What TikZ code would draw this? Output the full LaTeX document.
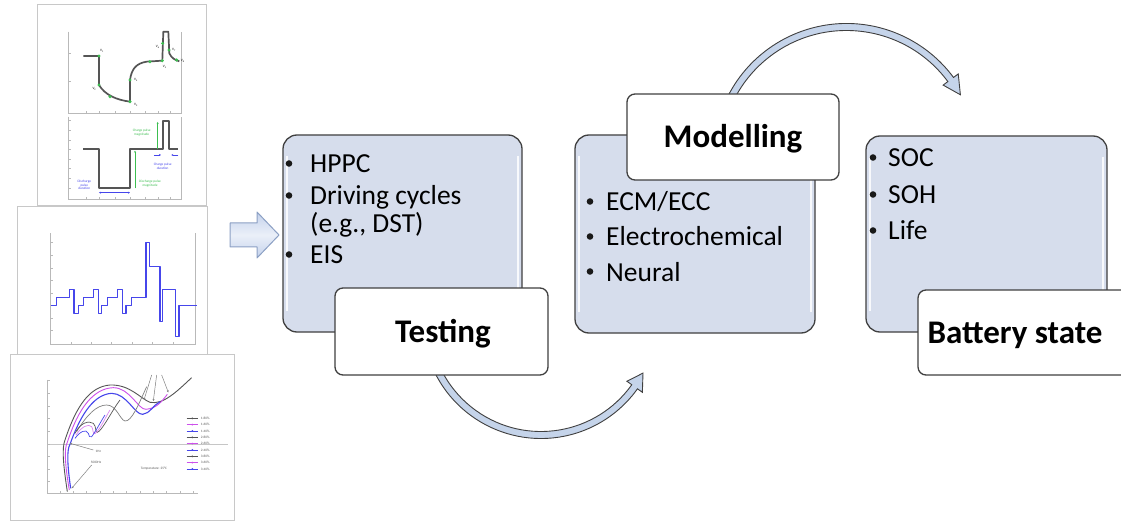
\documentclass[tikz,border=0pt]{standalone}
\usepackage{fontspec}
\setmainfont{Carlito}
\usetikzlibrary{calc,arrows.meta}
\definecolor{boxfill}{RGB}{214,221,236}
\definecolor{boxline}{RGB}{64,64,64}
\definecolor{bandfill}{RGB}{197,212,234}
\definecolor{arrline}{RGB}{140,160,196}
\definecolor{arrfill}{RGB}{196,210,236}
\definecolor{plotgray}{RGB}{85,85,85}
\definecolor{plotgreen}{RGB}{60,190,80}
\definecolor{plotblue}{RGB}{70,70,235}
\definecolor{plotmag}{RGB}{205,80,235}
\definecolor{framegray}{RGB}{200,200,200}
\begin{document}
\begin{tikzpicture}[x=1pt,y=-1pt,
  contentbox/.style={draw=boxline, line width=1.3pt, fill=boxfill, rounded corners=14pt, inner sep=0pt},
  labelbox/.style={draw=boxline, line width=1.3pt, fill=white, rounded corners=8pt, inner sep=0pt},
  band/.style={draw=boxline, line width=0.9pt, fill=bandfill},
  bodytext/.style={inner sep=0pt, anchor=base west, font=\fontsize{27.5}{33}\selectfont},
  titletext/.style={inner sep=0pt, anchor=base, font=\bfseries\fontsize{33}{40}\selectfont},
  panel/.style={draw=framegray, line width=1pt, fill=white},
  axisline/.style={draw=gray!55, line width=0.5pt},
  tinytext/.style={inner sep=0pt, font=\fontsize{3.4}{3.8}\selectfont, align=center},
  hilite/.style={draw=white, line width=2pt, opacity=0.85},
  smallarr/.style={-{Stealth[length=2pt,width=2pt]}, line width=0.5pt},
  bulletdot/.style={fill=black!90}
]
\clip (0,0) rectangle (1121,521);
\fill[white] (0,0) rectangle (1121,521);

% ---------------- left panels ----------------
\path[panel] (37,5) rectangle (206,206);
\begin{scope}[shift={(30,0)}, x=0.3333pt, y=-0.3333pt]
  \draw[axisline] (115,95) -- (115,340) -- (455,340) -- (455,95);
  \draw[axisline] (115,350) -- (115,598) -- (455,598) -- (455,350);
  \foreach \t in {160,245} \draw[axisline] (115,\t) -- (122,\t);
  \foreach \t in {362,390,420,448,478,506,535,565} \draw[axisline] (115,\t) -- (122,\t);
  \foreach \t in {115,170,207,255,300,345,385,420,455} {
    \draw[axisline] (\t,340) -- (\t,333);
    \draw[axisline] (\t,598) -- (\t,591);
  }
  \draw[plotgray, line width=1.7pt, line join=round]
    (160,168) -- (207,168) -- (207,255) .. controls (225,285) and (260,300) .. (300,305)
    -- (300,240) .. controls (305,205) and (320,190) .. (350,185) -- (397,182)
    -- (400,95) -- (415,95) -- (418,160) .. controls (425,175) and (435,180) .. (448,184);
  \foreach \p in {(207,168),(207,255),(240,290),(300,305),(300,240),(360,185),(397,182),(398,130),(417,150),(440,180)}
    \fill[plotgreen] \p circle[radius=5];
  \node[tinytext] (v1) at (216,152) {V\textsubscript{1}};
  \node[tinytext] (v2) at (193,268) {V\textsubscript{2}};
  \node[tinytext] (v3) at (318,314) {V\textsubscript{3}};
  \node[tinytext] (v4) at (318,240) {V\textsubscript{4}};
  \node[tinytext] (v5) at (404,200) {V\textsubscript{5}};
  \node[tinytext] (v6) at (383,140) {V\textsubscript{6}};
  \node[tinytext] (v7) at (432,150) {V\textsubscript{7}};
  \node[tinytext] (v8) at (458,184) {V\textsubscript{8}};
  \draw[plotgray, line width=1.7pt, line join=round]
    (160,448) -- (207,448) -- (207,565) -- (300,565) -- (300,448) -- (398,448)
    -- (398,362) -- (418,362) -- (418,448) -- (445,448);
  \draw[plotgreen, smallarr] (383,448) -- (383,366);
  \node[tinytext, text=plotgreen] (cpm) at (335,398) {Charge pulse\\magnitude};
  \draw[plotblue, smallarr] (372,465) -- (393,465);
  \draw[plotblue, smallarr] (445,465) -- (424,465);
  \node[tinytext, text=plotblue] (cpd) at (398,498) {Charge pulse\\duration};
  \draw[plotblue, {Stealth[length=2pt,width=2pt]}-{Stealth[length=2pt,width=2pt]}, line width=0.5pt] (207,578) -- (300,578);
  \node[tinytext, text=plotblue] (dpd) at (163,555) {Discharge\\pulse\\duration};
  \draw[plotgreen, smallarr] (315,565) -- (315,452);
  \node[tinytext, text=plotgreen] (dpm) at (360,552) {Discharge pulse\\magnitude};
\end{scope}

\path[panel] (17,207) rectangle (207,354);
\begin{scope}[shift={(10,200)}, x=0.3333pt, y=-0.3333pt]
  \draw[axisline] (122,100) -- (122,432) -- (555,432) -- (555,100);
  \foreach \t in {128,167,205,242,280,316,354,392,432} \draw[axisline] (122,\t) -- (129,\t);
  \foreach \t in {122,183,245,305,367,428,490,555} \draw[axisline] (\t,432) -- (\t,425);
  \draw[plotblue, line width=1.3pt, line join=round]
    (122,316) -- (140,316) -- (140,293) -- (178,293) -- (178,268) -- (192,268) -- (192,340) -- (205,340)
    -- (205,316) -- (220,316) -- (220,293) -- (250,293) -- (250,268) -- (265,268) -- (265,340) -- (275,340)
    -- (275,316) -- (292,316) -- (292,293) -- (322,293) -- (322,268) -- (337,268) -- (337,340) -- (348,340)
    -- (348,316) -- (365,316) -- (365,293) -- (408,293) -- (408,128) -- (418,128) -- (418,200) -- (450,200)
    -- (450,365) -- (458,365) -- (458,268) -- (497,268) -- (497,410) -- (507,410) -- (507,316) -- (560,316);
\end{scope}

\path[panel] (10,354) rectangle (234,520);
\begin{scope}[shift={(10,355)}, x=0.3333pt, y=-0.3333pt]
  \draw[axisline] (112,75) -- (112,415) -- (565,415);
  \draw[draw=gray!45, line width=0.6pt] (112,268) -- (655,268);
  \foreach \t in {75,115,153,190,228,268,305,342,380,415} \draw[axisline] (112,\t) -- (119,\t);
  \foreach \t in {112,150,190,230,270,310,350,390,430,470,510,550} \draw[axisline] (\t,415) -- (\t,408);
  \draw[plotgray, line width=0.9pt] (172,410) .. controls (160,330) and (155,280) .. (165,255)
    .. controls (200,150) and (240,95) .. (300,90) .. controls (360,88) and (390,130) .. (420,142)
    .. controls (460,150) and (500,110) .. (545,68);
  \draw[plotmag, line width=0.9pt] (178,405) .. controls (165,330) and (162,280) .. (172,262)
    .. controls (205,160) and (250,100) .. (310,98) .. controls (360,98) and (385,165) .. (408,163)
    .. controls (440,160) and (455,140) .. (472,118);
  \draw[plotblue, line width=1.1pt] (182,400) .. controls (172,330) and (170,285) .. (180,268)
    .. controls (215,170) and (255,118) .. (305,115) .. controls (350,115) and (375,180) .. (398,178)
    .. controls (420,176) and (430,150) .. (450,140);
  \draw[gray, line width=0.7pt] (200,230) .. controls (230,180) and (260,150) .. (290,150)
    .. controls (320,150) and (330,195) .. (345,198) .. controls (365,200) and (385,150) .. (410,95);
  \draw[plotgray, line width=0.7pt] (195,235) .. controls (210,205) and (235,195) .. (250,205)
    .. controls (260,215) and (255,232) .. (262,232) .. controls (275,230) and (310,160) .. (330,135);
  \draw[plotmag!70, line width=0.7pt] (198,240) .. controls (215,215) and (235,205) .. (245,215)
    .. controls (250,222) and (248,240) .. (255,236) .. controls (270,225) and (290,180) .. (300,165);
  \draw[plotblue, line width=0.7pt] (195,250) .. controls (210,230) and (228,220) .. (235,235)
    .. controls (238,243) and (238,250) .. (245,245) .. controls (260,225) and (275,195) .. (285,180);
  \draw[gray, smallarr] (425,60) -- (402,135);
  \draw[gray, smallarr] (440,60) -- (430,138);
  \draw[gray, smallarr] (455,60) -- (475,112);
  \draw[gray, smallarr] (250,285) -- (180,265);
  \draw[gray, smallarr] (245,330) -- (185,400);
  \node[tinytext, text=gray!70!black] (f1) at (265,290) {1Hz};
  \node[tinytext, text=gray!70!black] (f2) at (258,322) {5000Hz};
  \node[tinytext, text=gray!70!black] (temp) at (432,340) {Temperature: 25°C};
  \foreach \k/\c/\t in {0/plotgray/1-80\%,1/plotmag/1-60\%,2/plotblue/1-40\%,3/plotgray/2-80\%,4/plotmag/2-60\%,5/plotblue/2-40\%,6/plotgray/3-80\%,7/plotmag/3-60\%,8/plotblue/3-40\%} {
    \draw[\c, line width=0.9pt] (530,{190+19*\k}) -- (565,{190+19*\k});
    \fill[\c] (547,{190+19*\k}) circle[radius=3];
    \node[tinytext, anchor=west, text=gray!70!black] (lg\k) at (572,{190+19*\k}) {\t};
  }
\end{scope}

% ---------------- block arrow ----------------
\path[draw=arrline, line width=1pt, top color=arrfill, bottom color=arrfill, middle color=arrfill!35!white, line join=round]
  (230,223) -- (257,223) -- (257,212) -- (279,235) -- (257,258) -- (257,247) -- (230,247) -- cycle;

% ---------------- content boxes ----------------
\node[contentbox, minimum width=239pt, minimum height=197pt] (testbox) at (402.5,233.5) {};
\node[contentbox, minimum width=240pt, minimum height=198pt] (modbox) at (695,234) {};
\node[contentbox, minimum width=241pt, minimum height=196pt] (batbox) at (986.5,234) {};
\foreach \b in {testbox,modbox,batbox} {
  \draw[hilite] ($(\b.north west)+(5,22)$) -- ($(\b.south west)+(5,-22)$);
  \draw[hilite] ($(\b.north east)+(-5,22)$) -- ($(\b.south east)+(-5,-22)$);
}

% list texts
\foreach \yy in {173,205,264} \fill[bulletdot] (289,\yy-9.5) circle[radius=3.3];
\node[bodytext] (tt1) at (310,173) {HPPC};
\node[bodytext] (tt2) at (310,205) {Driving cycles};
\node[bodytext] (tt3) at (310,233) {(e.g., DST)};
\node[bodytext] (tt4) at (310,264) {EIS};

\foreach \yy in {211,246,281} \fill[bulletdot] (590,\yy-9.5) circle[radius=3.3];
\node[bodytext] (mt1) at (606,211) {ECM/ECC};
\node[bodytext] (mt2) at (606,246) {Electrochemical};
\node[bodytext] (mt3) at (606,281) {Neural};

\foreach \yy in {167,204,240} \fill[bulletdot] (873,\yy-9.5) circle[radius=3.3];
\node[bodytext] (bt1) at (888,167) {SOC};
\node[bodytext] (bt2) at (888,204) {SOH};
\node[bodytext] (bt3) at (888,240) {Life};

% ---------------- curved arrows ----------------
\coordinate (cb) at (541,320);
\path[band] ($(cb)+(160:118.5)$) arc[start angle=160, end angle=35.5, radius=118.5]
  -- ($(cb)+(35.5:124.5)$) -- ($(cb)+(27.5:115)$) -- ($(cb)+(35.5:105.5)$)
  -- ($(cb)+(35.5:111.5)$) arc[start angle=35.5, end angle=160, radius=111.5] -- cycle;

\coordinate (ct) at (846.5,156.6);
\path[band] ($(ct)+(205:133.1)$) arc[start angle=205, end angle=323.5, radius=133.1]
  -- ($(ct)+(323.5:139)$) -- ($(ct)+(331.5:129.6)$) -- ($(ct)+(323.5:120.2)$)
  -- ($(ct)+(323.5:126.1)$) arc[start angle=323.5, end angle=205, radius=126.1] -- cycle;

% ---------------- label boxes ----------------
\node[labelbox, minimum width=213pt, minimum height=87pt] (testlab) at (441.5,331.5) {};
\node[titletext] (testtitle) at (443,342) {Testing};
\node[labelbox, minimum width=212pt, minimum height=86pt] (modlab) at (733,137) {};
\node[titletext] (modtitle) at (733,148) {Modelling};
\node[labelbox, minimum width=217pt, minimum height=85pt] (batlab) at (1026.5,332.5) {};
\node[titletext] (battitle) at (1015,343) {Battery state};
\end{tikzpicture}
\end{document}
